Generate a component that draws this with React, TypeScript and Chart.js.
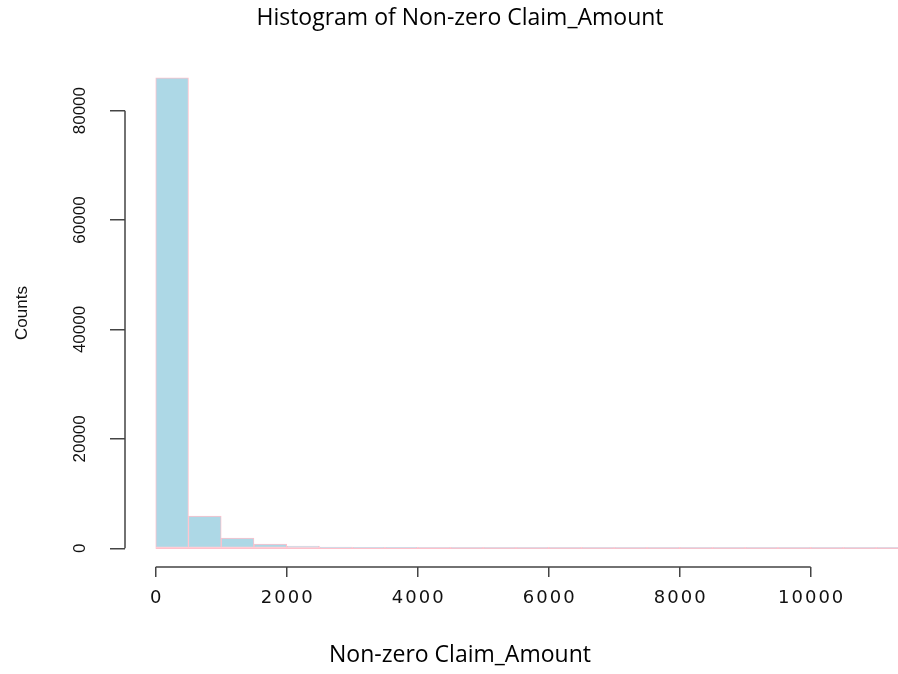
import React, { useEffect, useRef } from "react";
import { Chart, registerables } from "chart.js";

Chart.register(...registerables);

// ---- data ----
const chartTitle = "Histogram of Non-zero Claim_Amount";
const xTitle = "Non-zero Claim_Amount";
const yTitle = "Counts";
const binWidth = 500;
const binStarts = [0, 500, 1000, 1500, 2000, 2500, 3000, 3500, 4000, 4500, 5000, 5500, 6000, 6500, 7000, 7500, 8000, 8500, 9000, 9500, 10000, 10500, 11000, 11500];
const counts = [86000, 5900, 1850, 780, 400, 220, 120, 80, 50, 35, 25, 18, 12, 10, 8, 6, 5, 4, 3, 3, 2, 2, 1, 1];
const xTickValues = [0, 2000, 4000, 6000, 8000, 10000];
const yTickValues = [0, 20000, 40000, 60000, 80000];
const xLimits = [-469, 11669];
const yLimits = [-3440, 89440];

const rAxesPlugin = {
  id: "rAxes",
  beforeDraw(chart: any) {
    const s: any = chart.scales.x;
    if (s && !s.__wrapped) {
      const orig = s.drawLabels.bind(s);
      s.drawLabels = (area: any) => {
        const ctx: any = chart.ctx;
        ctx.save();
        ctx.letterSpacing = "2px";
        ctx.translate(1, 0);
        orig(area);
        ctx.restore();
      };
      s.__wrapped = true;
    }
  },
  afterDraw(chart: any) {
    const { ctx, chartArea, scales } = chart;
    ctx.save();
    ctx.strokeStyle = "#444";
    ctx.lineWidth = 1.5;
    ctx.beginPath();
    ctx.moveTo(scales.x.getPixelForValue(xTickValues[0]), chartArea.bottom);
    ctx.lineTo(scales.x.getPixelForValue(xTickValues[xTickValues.length - 1]), chartArea.bottom);
    ctx.moveTo(chartArea.left, scales.y.getPixelForValue(yTickValues[0]));
    ctx.lineTo(chartArea.left, scales.y.getPixelForValue(yTickValues[yTickValues.length - 1]));
    ctx.stroke();
    ctx.restore();
  },
};

export default function App() {
  const ref = useRef<HTMLCanvasElement>(null);
  useEffect(() => {
    if (!ref.current) return;
    Chart.defaults.font.family = "'Liberation Sans', Arial, sans-serif";
    const barData = binStarts.map((s, i) => ({ x: s + binWidth / 2, y: counts[i] }));
    const lastEdge = binStarts[binStarts.length - 1] + binWidth;
    const chart = new Chart(ref.current, {
      type: "bar",
      data: {
        datasets: [
          {
            type: "bar",
            data: barData as any,
            backgroundColor: "#ADD8E6",
            borderColor: "#FFC0CB",
            borderWidth: 1,
            borderSkipped: false,
            barPercentage: 1,
            categoryPercentage: 1,
          } as any,
          {
            type: "line",
            data: [
              { x: binStarts[0], y: 0 },
              { x: lastEdge, y: 0 },
            ] as any,
            borderColor: "#FFC0CB",
            borderWidth: 1.5,
            pointRadius: 0,
          } as any,
        ],
      },
      options: {
        responsive: false,
        animation: false,
        devicePixelRatio: 1,
        layout: { padding: 0 },
        plugins: {
          legend: { display: false },
          tooltip: { enabled: false },
          title: {
            display: true,
            text: chartTitle,
            color: "#000",
            font: { family: "'Open Sans', sans-serif", size: 23, weight: "normal" },
            padding: { top: 5, bottom: 26.4 },
          },
          subtitle: {
            display: true,
            position: "bottom",
            text: xTitle,
            color: "#000",
            font: { family: "'Open Sans', sans-serif", size: 23, weight: "normal" },
            padding: { top: 25, bottom: 4.3 },
          },
        },
        scales: {
          x: {
            type: "linear",
            min: xLimits[0],
            max: xLimits[1],
            offset: false,
            grid: {
              offset: false,
              drawOnChartArea: false,
              drawTicks: true,
              tickLength: 10,
              color: "#444",
              lineWidth: 1.5,
            },
            border: { display: false },
            afterBuildTicks: (s: any) => {
              s.ticks = xTickValues.map((v) => ({ value: v }));
            },
            ticks: {
              maxRotation: 0,
              minRotation: 0,
              autoSkip: false,
              padding: 10,
              color: "#111",
              font: { family: "'DejaVu Sans', sans-serif", size: 18 },
              callback: (v: any) => String(v),
            },
            afterFit: (s: any) => {
              s.height = 50;
            },
          },
          y: {
            type: "linear",
            min: yLimits[0],
            max: yLimits[1],
            grid: {
              drawOnChartArea: false,
              drawTicks: true,
              tickLength: 15,
              color: "#444",
              lineWidth: 1.5,
            },
            border: { display: false },
            afterBuildTicks: (s: any) => {
              s.ticks = yTickValues.map((v) => ({ value: v }));
            },
            ticks: {
              minRotation: 90,
              maxRotation: 90,
              autoSkip: false,
              crossAlign: "center",
              padding: 6,
              color: "#111",
              font: { family: "'Liberation Sans', sans-serif", size: 17 },
              callback: (v: any) => String(v),
            },
            title: {
              display: true,
              text: yTitle,
              color: "#111",
              font: { family: "'Liberation Sans', sans-serif", size: 17 },
              padding: { top: 12, bottom: 0 },
            },
            afterFit: (s: any) => {
              s.width = 125;
            },
          },
        },
      } as any,
      plugins: [rAxesPlugin],
    });
    return () => chart.destroy();
  }, []);

  return (
    <div
      style={{
        position: "absolute",
        left: 0,
        top: 0,
        width: 898,
        height: 674,
        overflow: "hidden",
        background: "#fff",
      }}
    >
      <canvas ref={ref} width={920} height={674} style={{ width: 920, height: 674, display: "block" }} />
    </div>
  );
}
